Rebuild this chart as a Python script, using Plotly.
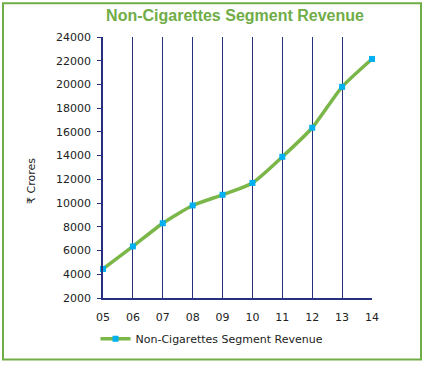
import plotly.graph_objects as go

years = ["05", "06", "07", "08", "09", "10", "11", "12", "13", "14"]
revenue = [4450, 6350, 8300, 9800, 10700, 11700, 13900, 16350, 19800, 22150]
y_ticks = [2000, 4000, 6000, 8000, 10000, 12000, 14000, 16000, 18000, 20000, 22000, 24000]
y_tick_labels = [str(v) for v in y_ticks]

W, H = 425, 365
L, R, T, B = 103, 53, 37, 65
pw, ph = W - L - R, H - T - B

def px_x(p):
    return (p - L) / pw

def px_y(p):
    return (H - B - p) / ph

navy = "#27307F"
green = "#70AD47"

fig = go.Figure()
fig.add_trace(go.Scatter(
    x=list(range(len(years))), y=revenue,
    mode="lines+markers",
    name="Non-Cigarettes Segment Revenue",
    line=dict(color="#7AB648", width=3.5, shape="spline", smoothing=0.6),
    marker=dict(color="#00B0F0", size=6, symbol="square"),
    cliponaxis=False,
))

fig.update_layout(
    width=W, height=H,
    margin=dict(l=L, r=R, t=T, b=B),
    paper_bgcolor="white", plot_bgcolor="white",
    font=dict(family="DejaVu Sans", size=11, color="#222222"),
    title=dict(text="<b>Non-Cigarettes Segment Revenue</b>",
               font=dict(family="Liberation Sans", size=16, color=green),
               x=235 / W, xanchor="center", y=1 - 15 / H, yanchor="middle"),
    xaxis=dict(range=[0, len(years) - 1], tickmode="array",
               tickvals=list(range(len(years))), ticktext=years,
               showgrid=True, gridcolor=navy, gridwidth=1,
               showline=True, linecolor=navy, linewidth=1.5,
               ticks="", zeroline=False, fixedrange=True,
               ticklabelstandoff=8, tickfont=dict(size=11)),
    yaxis=dict(range=[2000, 24000], tickmode="array", tickvals=y_ticks,
               ticktext=y_tick_labels,
               showgrid=False, showline=True, linecolor=navy, linewidth=1.5,
               ticks="outside", ticklen=4, tickcolor=navy,
               zeroline=False, ticklabelstandoff=4, tickfont=dict(size=11)),
    showlegend=True,
    legend=dict(orientation="h", x=px_x(212), xanchor="center",
                y=px_y(341), yanchor="middle", font=dict(size=11)),
    annotations=[dict(text="₹ Crores", textangle=-90, x=px_x(32), y=px_y(182),
                      xref="paper", yref="paper", showarrow=False,
                      xanchor="center", yanchor="middle",
                      font=dict(size=11))],
    shapes=[dict(type="rect", xref="paper", yref="paper",
                 x0=px_x(3), x1=px_x(421), y0=px_y(362), y1=px_y(3),
                 line=dict(color=green, width=2))],
)

fig.write_html("out.html", config={"displayModeBar": False},
               post_script="document.body.style.margin='0';")
